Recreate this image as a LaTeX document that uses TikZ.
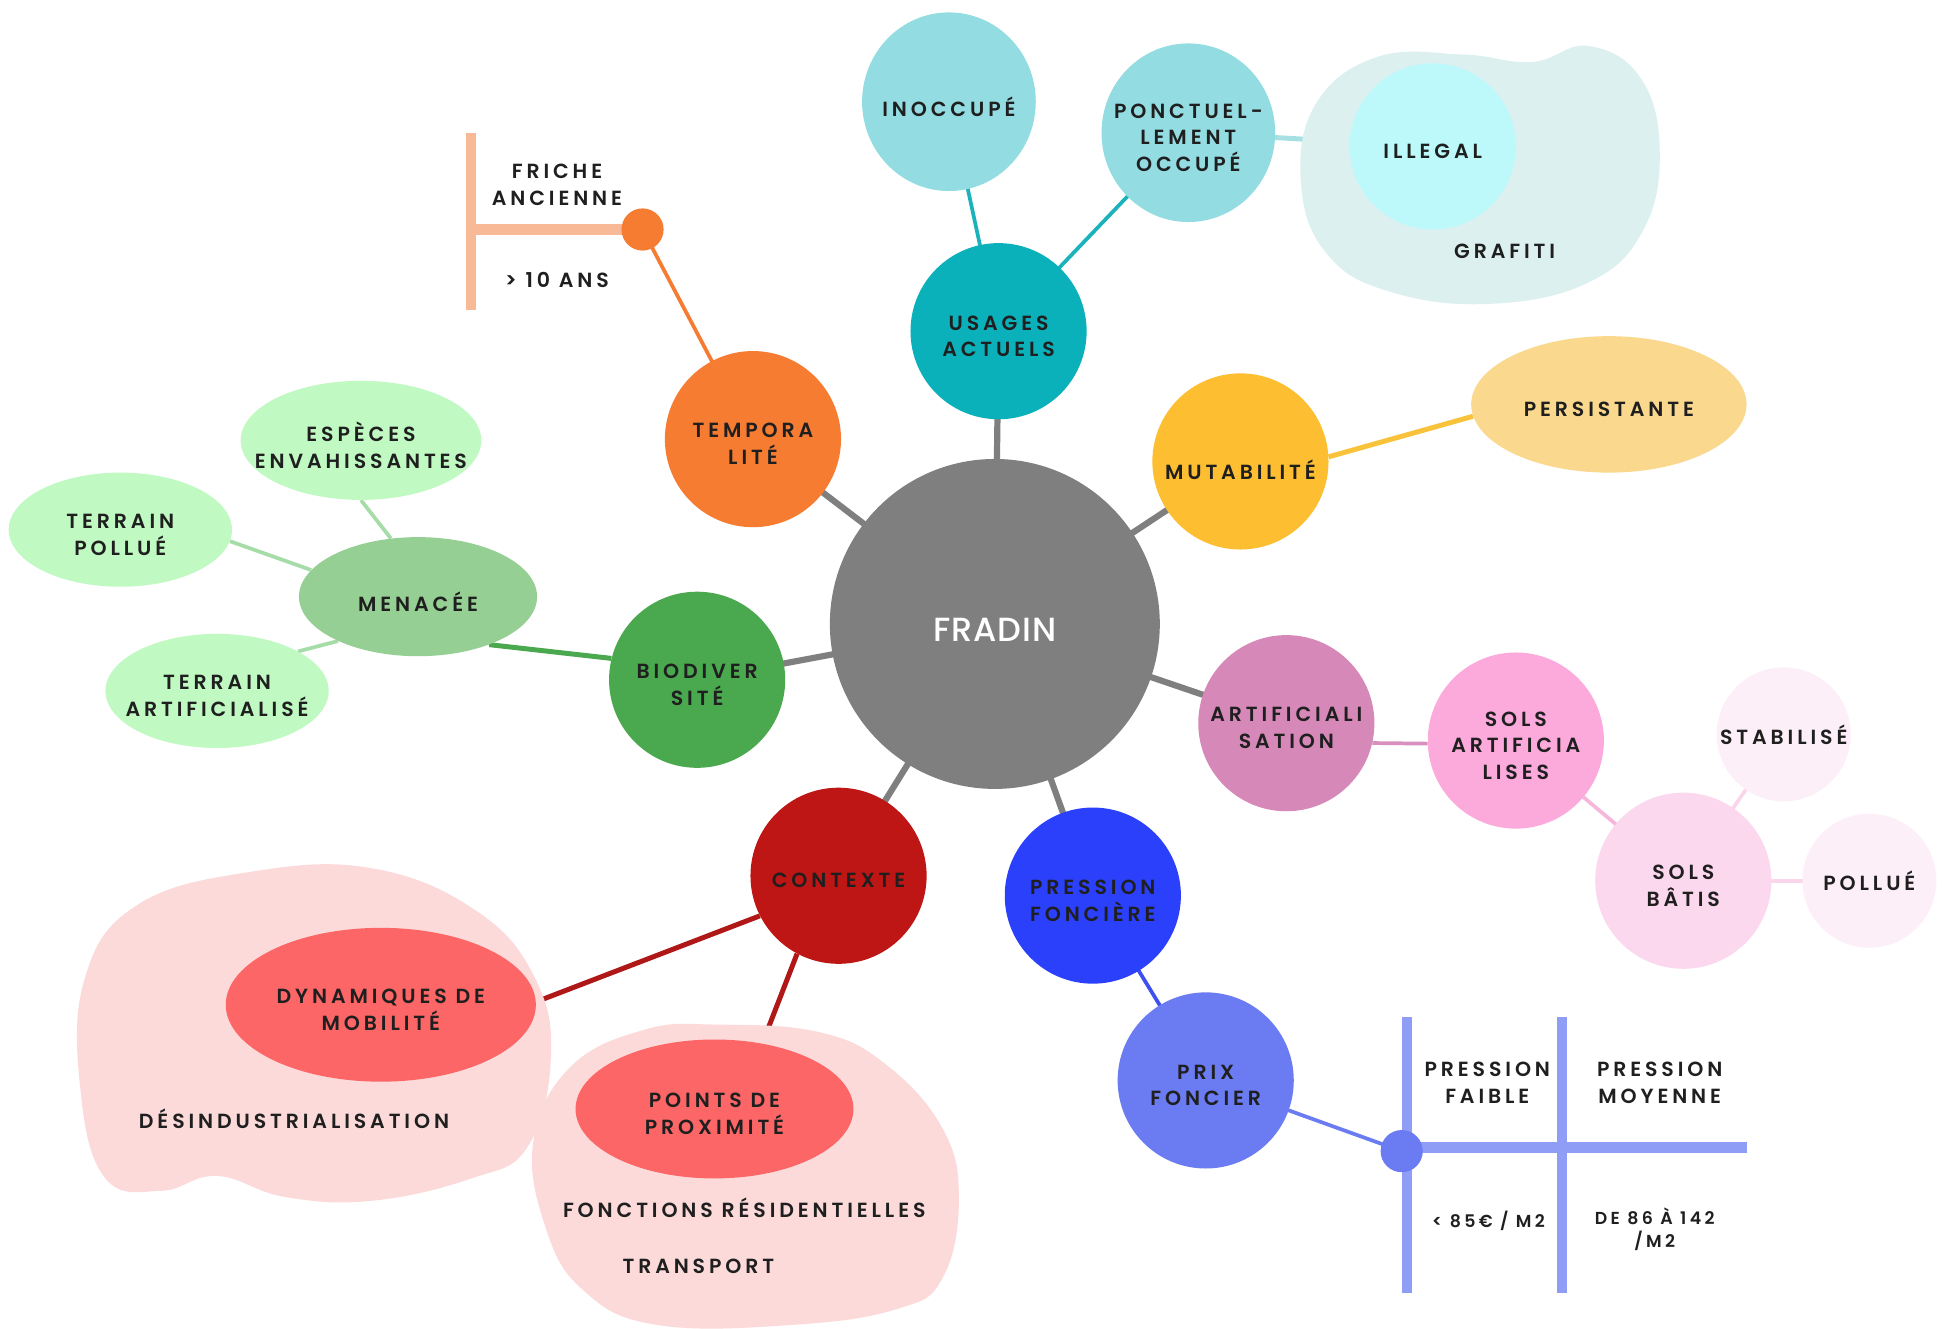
\documentclass[tikz,border=0pt]{standalone}
\usepackage{fontspec}
\usetikzlibrary{shapes.geometric}
\IfFontExistsTF{Poppins SemiBold}{\newfontfamily\labf[LetterSpace=19]{Poppins SemiBold}}{%
  \IfFontExistsTF{Poppins Medium}{\newfontfamily\labf[LetterSpace=19,FakeBold=1]{Poppins Medium}}{\newfontfamily\labf[LetterSpace=19,FakeBold=1.5]{Poppins}}}
\IfFontExistsTF{Poppins Medium}{\newfontfamily\bigf[LetterSpace=3]{Poppins Medium}}{\newfontfamily\bigf[LetterSpace=3]{Poppins}}
\definecolor{txt}{HTML}{1F1F1F}
\definecolor{cFradin}{HTML}{7F7F7F}
\definecolor{cUsage}{HTML}{0BB1BA}
\definecolor{cInocc}{HTML}{93DDE2}
\definecolor{cIlleg}{HTML}{BDF9FB}
\definecolor{cBlobT}{HTML}{DDF0F0}
\definecolor{cTeal}{HTML}{1BB3BB}
\definecolor{cTealL}{HTML}{A6E0E3}
\definecolor{cMut}{HTML}{FDBE31}
\definecolor{cPers}{HTML}{FAD88D}
\definecolor{cYel}{HTML}{F8C23A}
\definecolor{cTemp}{HTML}{F57C31}
\definecolor{cPeach}{HTML}{F8BA96}
\definecolor{cBio}{HTML}{4AA84E}
\definecolor{cMen}{HTML}{96CF94}
\definecolor{cLgreen}{HTML}{C0F9C2}
\definecolor{cGreenL}{HTML}{A6DCA8}
\definecolor{cCtx}{HTML}{BE1515}
\definecolor{cDred}{HTML}{B01818}
\definecolor{cRose}{HTML}{FC6666}
\definecolor{cBlobP}{HTML}{FCDADA}
\definecolor{cPress}{HTML}{2B40FB}
\definecolor{cBlue}{HTML}{3D50F0}
\definecolor{cPrix}{HTML}{6B7CF2}
\definecolor{cTable}{HTML}{8F9DF6}
\definecolor{cArt}{HTML}{D688B8}
\definecolor{cArtL}{HTML}{D98FBD}
\definecolor{cSolsA}{HTML}{FCA9DB}
\definecolor{cSolsAL}{HTML}{F6B7DA}
\definecolor{cSolsB}{HTML}{FCD8EE}
\definecolor{cSolsBL}{HTML}{FAD6EA}
\definecolor{cPale}{HTML}{FDEFF7}
\pgfdeclarelayer{paper}
\pgfdeclarelayer{lines}
\pgfdeclarelayer{blobs}
\pgfsetlayers{paper,lines,blobs,main}
\begin{document}
\begin{tikzpicture}[x=1pt,y=-1pt,
  lab/.style={font={\labf\fontsize{16.5}{21.5}\selectfont}, text=txt, align=center},
  t/.style={label={[lab,yshift=-4pt]center:#1}},
  bub/.style={circle, inner sep=0pt, minimum size=142pt},
  ell/.style 2 args={ellipse, inner sep=0pt, minimum width=#1pt, minimum height=#2pt},
  gl/.style={draw=cFradin, line width=5pt},
  conn/.style={line width=#1},
  conn/.default=3pt]
\useasboundingbox (0,0) rectangle (1568,1071);
\begin{pgfonlayer}{paper}
\fill[white] (0,0) rectangle (1568,1071);
\end{pgfonlayer}

% ---------- centre
\node[bub, fill=cFradin, minimum size=266pt, label={[font={\bigf\fontsize{27}{30}\selectfont}, text=white, yshift=-5pt]center:FRADIN}] (fradin) at (802,503) {};

% ---------- usages actuels
\node[bub, fill=cUsage, t={USAGES\\ACTUELS}] (usages) at (805,267) {};
\node[ell={140}{144}, fill=cInocc, t=INOCCUPÉ] (inocc) at (765,82) {};
\node[ell={140}{144}, fill=cInocc, t={PONCTUEL-\\LEMENT\\OCCUPÉ}] (ponct) at (958,107) {};
\begin{pgfonlayer}{blobs}
\fill[cBlobT] plot[smooth cycle, tension=0.7] coordinates {(1110,46) (1180,44) (1235,50) (1280,37) (1322,62) (1338,120) (1325,185) (1280,228) (1200,245) (1120,235) (1070,205) (1049,150) (1060,85)};
\end{pgfonlayer}
\node[circle, inner sep=0pt, minimum size=134pt, fill=cIlleg, t=ILLEGAL] (illegal) at (1155,118) {};
\node[lab] (grafiti) at (1213,203) {GRAFITI};

% ---------- mutabilite
\node[bub, fill=cMut, label={[lab,yshift=-7pt]center:MUTABILITÉ}] (mut) at (1000,372) {};
\node[ell={222}{110}, fill=cPers, t=PERSISTANTE] (pers) at (1297,326) {};

% ---------- temporalite
\node[bub, fill=cTemp, t={TEMPORA\\LITÉ}] (tempo) at (607,354) {};
\node[circle, inner sep=0pt, minimum size=34pt, fill=cTemp] (tdot) at (518,185) {};
\coordinate (tv1) at (380,107);
\coordinate (tv2) at (380,250);
\coordinate (th) at (376,185);
\node[lab] (friche) at (449,149) {FRICHE\\ANCIENNE};
\node[lab] (dix) at (449,226) {> 10 ANS};

% ---------- biodiversite
\node[bub, fill=cBio, t={BIODIVER\\SITÉ}] (bio) at (562,548) {};
\node[ell={192}{96}, fill=cMen, t=MENACÉE] (men) at (337,481) {};
\node[ell={194}{96}, fill=cLgreen, t={ESPÈCES\\ENVAHISSANTES}] (esp) at (291,355) {};
\node[ell={180}{92}, fill=cLgreen, t={TERRAIN\\POLLUÉ}] (tpol) at (97,427) {};
\node[ell={180}{92}, fill=cLgreen, t={TERRAIN\\ARTIFICIALISÉ}] (tart) at (175,557) {};

% ---------- contexte
\node[bub, fill=cCtx, t=CONTEXTE] (ctx) at (676,706) {};
\begin{pgfonlayer}{blobs}
\fill[cBlobP] plot[smooth cycle, tension=0.7] coordinates {(201,703) (300,700) (385,735) (432,790) (444,855) (425,925) (380,950) (300,968) (230,965) (175,948) (130,960) (85,950) (65,880) (68,790) (110,730)};
\fill[cBlobP] plot[smooth cycle, tension=0.7] coordinates {(578,826) (660,832) (714,858) (760,910) (773,967) (760,1030) (724,1055) (640,1068) (529,1068) (470,1040) (440,990) (430,920) (460,860) (520,830)};
\end{pgfonlayer}
\node[ell={250}{124}, fill=cRose, t={DYNAMIQUES DE\\MOBILITÉ}] (dyn) at (307,810) {};
\node[lab] (desind) at (237,902) {DÉSINDUSTRIALISATION};
\node[ell={224}{112}, fill=cRose, t={POINTS DE\\PROXIMITÉ}] (pts) at (576,894) {};
\node[lab] (fonc) at (600,974) {FONCTIONS RÉSIDENTIELLES};
\node[lab] (transp) at (563,1021) {TRANSPORT};
\coordinate (blobL) at (400,820);
\coordinate (blobR) at (615,840);

% ---------- pression fonciere
\node[bub, fill=cPress, t={PRESSION\\FONCIÈRE}] (press) at (881,722) {};
\node[bub, fill=cPrix, t={PRIX\\FONCIER}] (prix) at (972,871) {};
\coordinate (va1) at (1134,820);
\coordinate (va2) at (1134,1042);
\coordinate (vb1) at (1259,820);
\coordinate (vb2) at (1259,1042);
\coordinate (hb1) at (1130,925);
\coordinate (hb2) at (1408,925);
\node[circle, inner sep=0pt, minimum size=34pt, fill=cPrix] (pdot) at (1130,928) {};
\node[lab] (pf) at (1199,873) {PRESSION\\FAIBLE};
\node[lab] (pm) at (1338,873) {PRESSION\\MOYENNE};
\node[lab, font={\labf\fontsize{14}{18}\selectfont}] (p85) at (1200,984) {< 85€ / M2};
\node[lab, font={\labf\fontsize{14}{18}\selectfont}] (p86) at (1334,991) {DE 86 À 142\\/M2};

% ---------- artificialisation
\node[bub, fill=cArt, t={ARTIFICIALI\\SATION}] (art) at (1037,583) {};
\node[bub, fill=cSolsA, t={SOLS\\ARTIFICIA\\LISES}] (solsa) at (1222,597) {};
\node[bub, fill=cSolsB, t={SOLS\\BÂTIS}] (solsb) at (1357,710) {};
\node[circle, inner sep=0pt, minimum size=108pt, fill=cPale, label={[lab]center:STABILISÉ}] (stab) at (1438,592) {};
\node[circle, inner sep=0pt, minimum size=108pt, fill=cPale, label={[lab]center:POLLUÉ}] (pol) at (1507,710) {};

% ---------- connectors
\begin{pgfonlayer}{lines}
\draw[gl] (fradin.center) -- (usages.center);
\draw[gl] (fradin.center) -- (tempo.center);
\draw[gl] (fradin.center) -- (bio.center);
\draw[gl] (fradin.center) -- (ctx.center);
\draw[gl] (fradin.center) -- (press.center);
\draw[gl] (fradin.center) -- (art.center);
\draw[gl] (fradin.center) -- (mut.center);
\draw[cTeal, conn] (usages.center) -- (inocc.center);
\draw[cTeal, conn] (usages.center) -- (ponct.center);
\draw[cTealL, conn=4pt] (ponct.center) -- (illegal.center);
\draw[cYel, conn=4pt] (mut.3) -- (pers.185);
\draw[cTemp, conn] (tdot.center) -- (tempo.center);
\draw[cPeach, line width=8pt] (tv1) -- (tv2);
\draw[cPeach, line width=9pt] (th) -- (tdot.center);
\draw[cBio, conn=4pt] (men.-34) -- (bio.166);
\draw[cGreenL, conn] (esp.-90) -- (men.115);
\draw[cGreenL, conn] (tpol.-6) -- (men.166);
\draw[cGreenL, conn] (tart.26) -- (men.209);
\draw[cDred, conn=4pt] (ctx.207.6) -- (blobL);
\draw[cDred, conn=4pt] (ctx.242) -- (blobR);
\draw[cBlue, conn] (press.center) -- (prix.center);
\draw[cPrix, conn] (prix.center) -- (pdot.center);
\draw[cTable, line width=8pt] (va1) -- (va2);
\draw[cTable, line width=8pt] (vb1) -- (vb2);
\draw[cTable, line width=9pt] (hb1) -- (hb2);
\draw[cArtL, conn] (art.-13.5) -- (solsa.182);
\draw[cSolsAL, conn] (solsa.center) -- (solsb.center);
\draw[cSolsBL, conn] (solsb.center) -- (stab.center);
\draw[cSolsBL, conn] (solsb.center) -- (pol.center);
\end{pgfonlayer}
\end{tikzpicture}
\end{document}
